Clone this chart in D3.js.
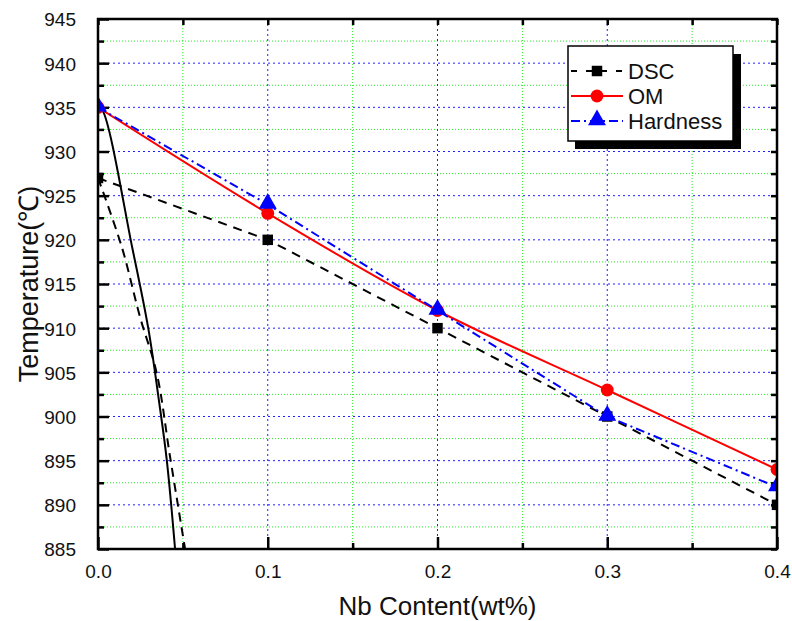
<!DOCTYPE html>
<html>
<head>
<meta charset="utf-8">
<script src="https://cdn.jsdelivr.net/npm/d3@7"></script>
<style>
  body { margin: 0; background: #fff; }
  text { font-family: "Liberation Sans", Arial, sans-serif; fill: #111; }
</style>
</head>
<body>
<svg width="792" height="621"></svg>
<script>

var nb = [0.0, 0.1, 0.2, 0.3, 0.4];
var dsc = [927, 920, 910, 900, 890];
var om = [935, 923, 912, 903, 894];
var hardness = [935, 924, 912, 900, 892];

// the two steep black curves near the left edge
var solidX = [0.0, 0.0025, 0.0204, 0.0296, 0.0359, 0.0405, 0.0454];
var solidT = [935, 934.7, 918.9, 910.0, 901.8, 895.1, 885];
var dashX = [0.0, 0.014, 0.0247, 0.0346, 0.0424, 0.0513];
var dashT = [927, 919.2, 911.3, 904.9, 895.5, 885];

var xTicks = [0.0, 0.1, 0.2, 0.3, 0.4];
var yTicks = [885, 890, 895, 900, 905, 910, 915, 920, 925, 930, 935, 940, 945];

var pLeft = 98, pRight = 777, pTop = 19, pBottom = 549;

var svg = d3.select("svg");

var xScale = d3.scaleLinear().domain([0, 0.4]).range([pLeft, pRight]);
var yScale = d3.scaleLinear().domain([885, 945]).range([pBottom, pTop]);

var xMinor = d3.range(0.05, 0.4, 0.1);
var yMinor = d3.range(887.5, 945, 5);

svg.append("defs").append("clipPath")
    .attr("id", "plotClip")
    .append("rect")
    .attr("x", pLeft).attr("y", pTop)
    .attr("width", pRight - pLeft).attr("height", pBottom - pTop);

// grid
var grid = svg.append("g");
grid.selectAll(".gx").data(xMinor).enter().append("line")
    .attr("x1", d => xScale(d)).attr("x2", d => xScale(d))
    .attr("y1", pTop).attr("y2", pBottom)
    .attr("stroke", "#22ee22").attr("stroke-width", 1).attr("stroke-dasharray", "1,2");
grid.selectAll(".gy").data(yMinor).enter().append("line")
    .attr("x1", pLeft).attr("x2", pRight)
    .attr("y1", d => yScale(d)).attr("y2", d => yScale(d))
    .attr("stroke", "#22ee22").attr("stroke-width", 1).attr("stroke-dasharray", "1,2");
grid.selectAll(".bx").data(xTicks.slice(1, -1)).enter().append("line")
    .attr("x1", d => xScale(d)).attr("x2", d => xScale(d))
    .attr("y1", pTop).attr("y2", pBottom)
    .attr("stroke", "#2020ff").attr("stroke-width", 1).attr("stroke-dasharray", "2,3");
grid.selectAll(".by").data(yTicks.slice(1, -1)).enter().append("line")
    .attr("x1", pLeft).attr("x2", pRight)
    .attr("y1", d => yScale(d)).attr("y2", d => yScale(d))
    .attr("stroke", "#2020ff").attr("stroke-width", 1).attr("stroke-dasharray", "2,3");

// axes
var xAxis = d3.axisBottom(xScale).tickValues(xTicks).tickFormat(d3.format(".1f")).tickSizeInner(-12).tickSizeOuter(0).tickPadding(16);
var yAxis = d3.axisLeft(yScale).tickValues(yTicks).tickSizeInner(-11).tickSizeOuter(0).tickPadding(22);

var gx = svg.append("g").attr("transform", "translate(0," + pBottom + ")").call(xAxis);
var gy = svg.append("g").attr("transform", "translate(" + pLeft + ",0)").call(yAxis);
[gx, gy].forEach(function (g) {
    g.select(".domain").remove();
    g.attr("font-size", null).attr("font-family", null);
    g.selectAll(".tick line").attr("stroke", "#000").attr("stroke-width", 2.5);
    g.selectAll(".tick text").style("font-size", "19px").attr("fill", "#111");
});
gy.selectAll(".tick text").attr("dy", "0.36em");

var gxm = svg.append("g").attr("transform", "translate(0," + pBottom + ")")
    .call(d3.axisBottom(xScale).tickValues(xMinor).tickSizeInner(-6).tickSizeOuter(0).tickFormat(""));
var gym = svg.append("g").attr("transform", "translate(" + pLeft + ",0)")
    .call(d3.axisLeft(yScale).tickValues(yMinor).tickSizeInner(-6).tickSizeOuter(0).tickFormat(""));
var gxt = svg.append("g").attr("transform", "translate(0," + pTop + ")")
    .call(d3.axisTop(xScale).tickValues(xTicks.concat(xMinor)).tickSizeInner(-6).tickSizeOuter(0).tickFormat(""));
var gyr = svg.append("g").attr("transform", "translate(" + pRight + ",0)")
    .call(d3.axisRight(yScale).tickValues(yTicks.concat(yMinor)).tickSizeInner(-6).tickSizeOuter(0).tickFormat(""));
[gxm, gym, gxt, gyr].forEach(function (g) {
    g.select(".domain").remove();
    g.selectAll(".tick line").attr("stroke", "#000").attr("stroke-width", 2.5);
});

// series
var plot = svg.append("g").attr("clip-path", "url(#plotClip)");

function pts(xs, ys) { return xs.map((x, i) => [x, ys[i]]); }

var line = d3.line().x(d => xScale(d[0])).y(d => yScale(d[1]));
var curve = d3.line().x(d => xScale(d[0])).y(d => yScale(d[1])).curve(d3.curveCatmullRom);

plot.append("path").attr("d", curve(pts(solidX, solidT)))
    .attr("fill", "none").attr("stroke", "#000").attr("stroke-width", 2);
plot.append("path").attr("d", curve(pts(dashX, dashT)))
    .attr("fill", "none").attr("stroke", "#000").attr("stroke-width", 2).attr("stroke-dasharray", "9,6");

plot.append("path").attr("d", line(pts(nb, dsc)))
    .attr("fill", "none").attr("stroke", "#000").attr("stroke-width", 2).attr("stroke-dasharray", "9,7");
plot.append("path").attr("d", curve(pts(nb, om)))
    .attr("fill", "none").attr("stroke", "#ff0000").attr("stroke-width", 2);
plot.append("path").attr("d", line(pts(nb, hardness)))
    .attr("fill", "none").attr("stroke", "#0000ff").attr("stroke-width", 2).attr("stroke-dasharray", "9,4,2,4");

var sq = d3.symbol().type(d3.symbolSquare).size(110);
var ci = d3.symbol().type(d3.symbolCircle).size(130);
var tr = d3.symbol().type(d3.symbolTriangle).size(140);

plot.selectAll(".m1").data(pts(nb, dsc)).enter().append("path")
    .attr("d", sq).attr("fill", "#000")
    .attr("transform", d => "translate(" + xScale(d[0]) + "," + yScale(d[1]) + ")");
plot.selectAll(".m2").data(pts(nb, om)).enter().append("path")
    .attr("d", ci).attr("fill", "#ff0000")
    .attr("transform", d => "translate(" + xScale(d[0]) + "," + yScale(d[1]) + ")");
plot.selectAll(".m3").data(pts(nb, hardness)).enter().append("path")
    .attr("d", tr).attr("fill", "#0000ff")
    .attr("transform", d => "translate(" + xScale(d[0]) + "," + (yScale(d[1]) - 1) + ")");

// frame
svg.append("rect").attr("x", pLeft).attr("y", pTop)
    .attr("width", pRight - pLeft).attr("height", pBottom - pTop)
    .attr("fill", "none").attr("stroke", "#000").attr("stroke-width", 2.5);

// legend
var lg = svg.append("g");
lg.append("rect").attr("x", 575).attr("y", 54).attr("width", 166).attr("height", 95).attr("fill", "#000");
lg.append("rect").attr("x", 568).attr("y", 46).attr("width", 165).attr("height", 95)
    .attr("fill", "#fff").attr("stroke", "#000").attr("stroke-width", 1.5);

var entries = [
    { name: "DSC", color: "#000", dash: "6,9", sym: sq },
    { name: "OM", color: "#ff0000", dash: null, sym: ci },
    { name: "Hardness", color: "#0000ff", dash: "9,4,2,4", sym: tr }
];
entries.forEach(function (e, i) {
    var y = 71 + i * 25;
    lg.append("line").attr("x1", 571).attr("x2", 623).attr("y1", y).attr("y2", y)
        .attr("stroke", e.color).attr("stroke-width", 2).attr("stroke-dasharray", e.dash);
    lg.append("path").attr("d", e.sym).attr("fill", e.color)
        .attr("transform", "translate(597," + (i == 2 ? y - 1 : y) + ")");
    lg.append("text").attr("x", 628).attr("y", y + 8).style("font-size", "22px").text(e.name);
});

// axis titles
svg.append("text").attr("x", (pLeft + pRight) / 2).attr("y", 615)
    .attr("text-anchor", "middle").style("font-size", "26px").text("Nb Content(wt%)");
svg.append("text").attr("transform", "translate(38," + (pTop + pBottom) / 2 + ") rotate(-90)")
    .attr("text-anchor", "middle").style("font-size", "27px").text("Temperature(℃)");

</script>
</body>
</html>
